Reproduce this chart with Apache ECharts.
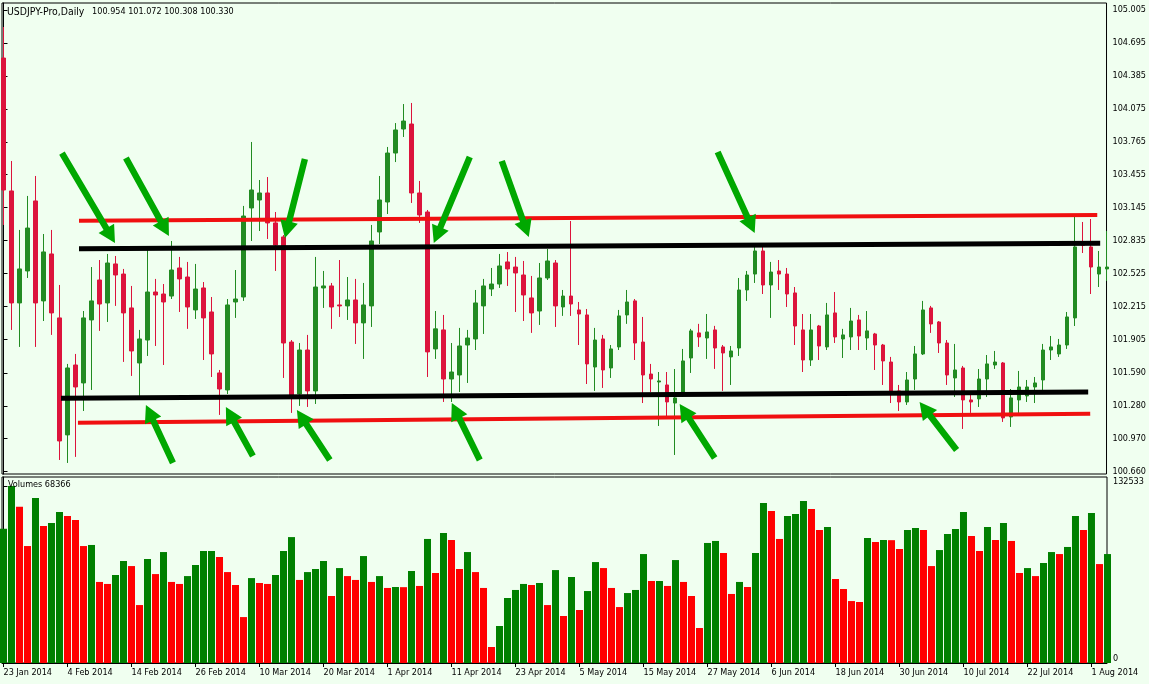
<!DOCTYPE html>
<html><head><meta charset="utf-8">
<script src="https://cdn.jsdelivr.net/npm/echarts@6/dist/echarts.min.js"></script>
<style>html,body{margin:0;padding:0;background:#f0fff0;overflow:hidden}#chart{width:1149px;height:684px}</style>
</head><body><div id="chart"></div>
<script>
const tickLabels = ['23 Jan 2014','4 Feb 2014','14 Feb 2014','26 Feb 2014','10 Mar 2014','20 Mar 2014','1 Apr 2014','11 Apr 2014','23 Apr 2014','5 May 2014','15 May 2014','27 May 2014','6 Jun 2014','18 Jun 2014','30 Jun 2014','10 Jul 2014','22 Jul 2014','1 Aug 2014'];
const tickIndex = tickLabels.map((_, i) => i * 8);
const priceTicks = [105.005,104.695,104.385,104.075,103.765,103.455,103.145,102.835,102.525,102.215,101.905,101.590,101.280,100.970,100.660];
const volumeTicks = [0, 132533];

const open = [104.553,103.302,102.248,102.549,103.208,102.267,102.709,102.107,101.006,101.664,
101.495,102.088,102.464,102.248,102.615,102.520,102.201,101.683,101.899,102.351,
102.332,102.313,102.577,102.492,102.182,102.389,102.163,101.589,101.429,102.257,
102.304,103.142,103.217,103.283,103.001,102.869,101.880,101.391,101.805,101.420,
102.389,102.408,102.229,102.220,102.276,102.060,102.220,102.916,103.198,103.659,
103.885,103.932,103.283,103.104,101.815,101.994,101.532,101.570,101.852,101.909,
102.220,102.379,102.426,102.634,102.586,102.511,102.295,102.172,102.483,102.624,
102.210,102.313,102.182,102.135,101.645,101.909,101.636,101.834,102.135,102.267,
101.880,101.579,101.504,101.476,101.306,101.401,101.730,101.966,101.918,101.994,
101.834,101.740,101.824,102.370,102.520,102.737,102.417,102.549,102.520,102.342,
101.994,101.711,102.031,101.834,102.154,101.909,101.928,102.088,101.918,101.956,
101.852,101.692,101.420,101.316,101.532,101.768,102.201,102.069,101.871,101.542,
101.636,101.335,101.345,101.532,101.664,101.683,101.175,101.335,101.373,101.457,
101.523,101.805,101.768,101.852,102.107,102.800,102.775,102.520,102.568];
const high = [104.845,103.584,102.935,103.255,103.443,102.897,102.935,102.417,101.674,101.768,
102.172,102.586,102.652,102.709,102.690,102.568,102.408,101.994,102.746,102.474,
102.426,102.831,102.681,102.634,102.615,102.445,102.304,101.617,102.285,102.558,
103.161,103.763,103.405,103.433,103.104,102.887,101.899,101.871,101.947,102.681,
102.549,102.436,102.652,102.492,102.474,102.436,102.982,103.443,103.716,103.941,
104.120,104.130,103.396,103.123,102.172,102.135,101.871,102.013,101.994,102.370,
102.474,102.577,102.709,102.727,102.681,102.643,102.502,102.624,102.756,102.652,
102.370,103.019,102.257,102.191,102.013,101.947,101.852,102.182,102.370,102.285,
102.116,101.674,101.598,101.598,101.626,101.815,102.004,102.051,102.144,102.032,
101.852,101.843,102.483,102.549,102.775,102.775,102.634,102.652,102.577,102.398,
102.144,102.144,102.041,102.248,102.351,102.004,102.201,102.135,102.172,101.966,
101.862,101.740,101.476,101.598,101.843,102.267,102.220,102.078,101.899,101.862,
101.655,101.410,101.626,101.758,101.796,101.692,101.438,101.608,101.523,101.551,
101.862,101.937,101.909,102.163,103.057,103.010,103.038,102.737,102.925];
const low = [102.982,101.994,101.834,102.483,101.834,102.078,101.947,100.770,100.742,100.799,
101.231,101.429,101.985,102.069,102.220,101.693,101.561,101.373,101.749,101.843,
101.664,102.285,102.163,102.004,102.097,101.711,101.551,101.194,101.391,102.107,
102.267,102.831,102.925,102.850,102.549,101.542,101.213,101.279,101.269,101.297,
102.201,102.004,102.116,102.088,101.862,101.721,102.022,102.803,103.085,103.574,
103.810,103.189,103.001,101.551,101.721,101.316,101.316,101.410,101.495,101.805,
101.956,102.313,102.389,102.408,102.163,102.078,101.966,102.041,102.464,102.022,
102.126,102.126,101.852,101.485,101.420,101.448,101.542,101.805,102.051,101.711,
101.306,101.410,101.090,101.175,100.817,101.363,101.589,101.834,101.721,101.627,
101.420,101.476,101.749,102.267,102.436,102.332,102.107,102.370,102.210,101.852,
101.598,101.655,101.711,101.805,101.871,101.730,101.805,101.805,101.805,101.617,
101.476,101.306,101.231,101.288,101.429,101.758,101.966,101.777,101.476,101.363,
101.062,101.213,101.269,101.363,101.627,101.128,101.081,101.213,101.316,101.306,
101.429,101.711,101.740,101.815,102.031,102.718,102.332,102.398,102.455];
const close = [103.311,102.248,102.568,102.953,102.248,102.728,102.154,100.949,101.636,101.457,
102.107,102.267,102.238,102.624,102.511,102.154,101.796,101.909,102.351,102.323,
102.257,102.558,102.474,102.210,102.379,102.107,101.768,101.438,102.229,102.285,
103.066,103.311,103.283,103.001,102.793,101.871,101.382,101.805,101.420,102.398,
102.408,102.210,102.220,102.276,102.060,102.229,102.831,103.217,103.659,103.876,
103.960,103.283,103.076,101.787,102.004,101.532,101.598,101.843,101.918,102.248,
102.408,102.426,102.596,102.568,102.530,102.323,102.154,102.483,102.643,102.220,
102.313,102.238,102.144,101.674,101.899,101.617,101.815,102.126,102.257,101.871,
101.570,101.532,101.514,101.316,101.354,101.702,101.985,101.928,101.975,101.824,
101.777,101.796,102.370,102.511,102.737,102.417,102.539,102.520,102.332,102.031,
101.711,101.994,101.843,102.135,101.928,101.947,102.078,101.937,101.985,101.852,
101.702,101.420,101.316,101.523,101.768,102.182,102.050,101.871,101.570,101.617,
101.335,101.316,101.532,101.674,101.692,101.166,101.354,101.457,101.457,101.495,
101.805,101.834,101.852,102.116,102.775,102.790,102.586,102.586,102.586];
const volume = [100600,132533,117000,87600,123600,102600,104800,113100,110100,107100,
87600,88400,60700,59200,65900,76400,72600,43400,77900,66600,
83100,60700,59200,65100,73400,83900,83900,79400,68100,58400,
34400,63600,59900,59200,65900,83900,94300,62200,68100,70400,
76400,50200,71100,65100,62200,80100,60700,65100,56200,56900,
56800,68900,57700,92900,67400,97300,92100,70400,83100,68100,
56200,12000,27700,48700,54700,59200,58400,59900,43400,69600,
35200,64400,39700,53900,75600,71100,56200,41900,52400,54700,
81600,61400,61400,57700,77100,60700,50200,26200,89900,91400,
82400,51700,60700,56900,82400,119800,113800,92900,110100,111600,
121300,115300,99600,101800,62900,55400,46400,45700,93600,90600,
92100,92000,85400,99600,101100,99600,72600,84600,96600,100300,
113100,95100,83900,101800,92100,104800,91400,67400,71100,65100,
74900,83100,81600,86900,110100,99600,112300,74100,81600];

// trend lines: [barIndex, price] end points
const upperRedLine = [[9.44, 103.022], [136.78, 103.076]];
const upperBlackLine = [[9.44, 102.758], [137.15, 102.809]];
const lowerBlackLine = [[7.19, 101.351], [135.65, 101.410]];
const lowerRedLine = [[9.31, 101.121], [135.9, 101.206]];
// arrows: [tailIndex, tailPrice, tipIndex, tipPrice]
const arrows = [
  [7.31,103.659,13.94,102.812],
  [15.31,103.612,20.69,102.878],
  [37.69,103.603,35.19,102.859],
  [58.31,103.621,53.81,102.812],
  [62.31,103.584,65.69,102.869],
  [89.31,103.669,93.94,102.906],
  [21.19,100.742,17.81,101.288],
  [31.19,100.808,27.81,101.269],
  [40.81,100.770,36.69,101.241],
  [59.56,100.770,56.06,101.306],
  [88.94,100.789,84.56,101.297],
  [119.19,100.864,114.56,101.316]
];

const FONT = '"DejaVu Sans Condensed","DejaVu Sans",sans-serif';
const XMIN = -0.1875, XMAX = 137.94;
const chart = echarts.init(document.getElementById('chart'), null, {renderer: 'canvas'});

const candleData = open.map((o, i) => [i, o, close[i], low[i], high[i]]);
const volData = volume.map((v, i) => ({
  value: [i, v],
  itemStyle: {color: (i === 0 || v >= volume[i - 1]) ? '#008000' : '#ff0000'}
}));

function trend(data, color, width) {
  return {type: 'line', xAxisIndex: 0, yAxisIndex: 0, data: data, symbol: 'none', showSymbol: false,
    silent: true, z: 5, lineStyle: {color: color, width: width, cap: 'butt'}};
}

chart.setOption({
  animation: false,
  backgroundColor: '#f0fff0',
  textStyle: {fontFamily: FONT},
  title: [
    {text: '{a|USDJPY-Pro,Daily}   100.954 101.072 100.308 100.330', left: 7, top: 7, padding: 0,
      textStyle: {fontSize: 9, fontWeight: 'normal', color: '#000', fontFamily: FONT,
        rich: {a: {fontSize: 10.4, fontFamily: FONT, color: '#000'}}}},
    {text: 'Volumes 68366', left: 8, top: 480, padding: 0,
      textStyle: {fontSize: 9, fontWeight: 'normal', color: '#000', fontFamily: FONT}}
  ],
  grid: [
    {left: 2, top: 3, width: 1105, height: 471, show: true, borderColor: '#000', borderWidth: 1, backgroundColor: 'transparent'},
    {left: 2, top: 477, width: 1105, height: 186, show: true, borderColor: '#000', borderWidth: 1, backgroundColor: 'transparent'}
  ],
  xAxis: [
    {type: 'value', gridIndex: 0, min: XMIN, max: XMAX, show: false, splitLine: {show: false},
      axisLine: {show: false}, axisTick: {show: false}, axisLabel: {show: false}},
    {type: 'value', gridIndex: 1, min: XMIN, max: XMAX, splitLine: {show: false},
      axisLine: {show: true, lineStyle: {color: '#000'}},
      axisTick: {show: true, length: 4, lineStyle: {color: '#000'}, customValues: tickIndex},
      axisLabel: {customValues: tickIndex, formatter: v => tickLabels[Math.round(v / 8)] || '',
        align: 'left', margin: 5, fontSize: 9, color: '#000', fontFamily: FONT}}
  ],
  yAxis: [
    {type: 'value', gridIndex: 0, position: 'right', min: 100.638, max: 105.071, splitLine: {show: false},
      axisLine: {show: true, lineStyle: {color: '#000'}},
      axisTick: {show: true, length: 4, lineStyle: {color: '#000'}, customValues: priceTicks},
      axisLabel: {customValues: priceTicks, formatter: v => v.toFixed(3), margin: 6, fontSize: 9, color: '#000', fontFamily: FONT}},
    {type: 'value', gridIndex: 1, position: 'right', min: 0, max: 139300, splitLine: {show: false},
      axisLine: {show: true, lineStyle: {color: '#000'}},
      axisTick: {show: true, length: 4, lineStyle: {color: '#000'}, customValues: volumeTicks},
      axisLabel: {customValues: volumeTicks, formatter: v => String(v), margin: 6, fontSize: 9, color: '#000',
        verticalAlign: 'bottom', fontFamily: FONT}}
  ],
  series: [
    {type: 'candlestick', xAxisIndex: 0, yAxisIndex: 0, data: candleData, barWidth: 4, z: 2,
      itemStyle: {color: '#228b22', color0: '#dc143c', borderColor: '#228b22', borderColor0: '#dc143c', borderWidth: 1}},
    {type: 'bar', xAxisIndex: 1, yAxisIndex: 1, data: volData, barWidth: 7},
    trend(upperRedLine, '#f01010', 4),
    trend(lowerRedLine, '#f01010', 4),
    trend(upperBlackLine, '#000000', 5),
    trend(lowerBlackLine, '#000000', 5),
    {type: 'custom', xAxisIndex: 0, yAxisIndex: 0, data: arrows, z: 10, silent: true,
      encode: {x: [0, 2], y: [1, 3]},
      renderItem: function (params, api) {
        const p0 = api.coord([api.value(0), api.value(1)]);
        const p1 = api.coord([api.value(2), api.value(3)]);
        const dx = p1[0] - p0[0], dy = p1[1] - p0[1];
        const L = Math.sqrt(dx * dx + dy * dy);
        const ux = dx / L, uy = dy / L, nx = -uy, ny = ux;
        const hl = 17, hw = 9, sw = 3.2;
        const bx = p1[0] - ux * hl, by = p1[1] - uy * hl;
        const pts = [
          [p0[0] + nx * sw, p0[1] + ny * sw],
          [bx + nx * sw, by + ny * sw],
          [bx + nx * hw, by + ny * hw],
          [p1[0], p1[1]],
          [bx - nx * hw, by - ny * hw],
          [bx - nx * sw, by - ny * sw],
          [p0[0] - nx * sw, p0[1] - ny * sw]
        ];
        return {type: 'polygon', shape: {points: pts}, style: {fill: '#00a800', stroke: null}};
      }}
  ]
});
</script></body></html>
